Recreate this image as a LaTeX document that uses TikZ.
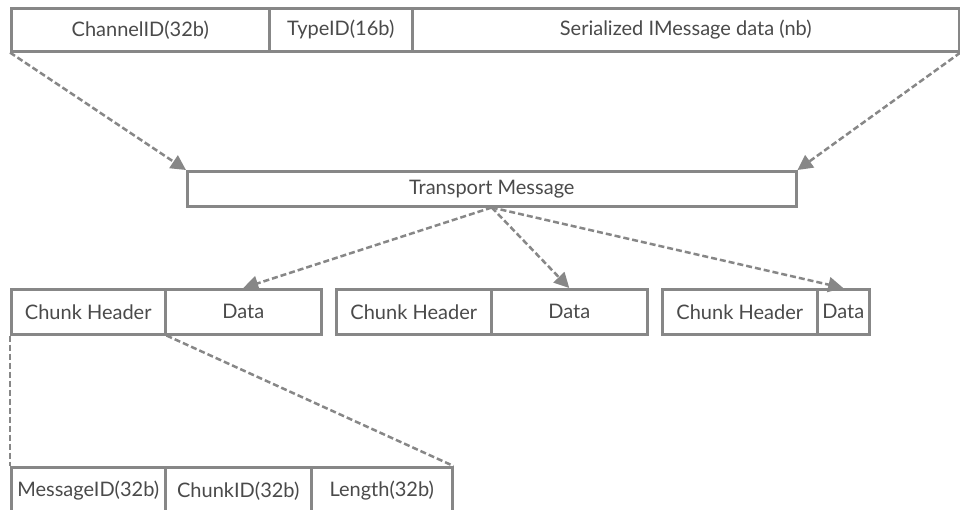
\documentclass[tikz,border=0pt]{standalone}
\usepackage{fontspec}
\setmainfont{Lato}
\usetikzlibrary{arrows.meta}

\definecolor{linegray}{HTML}{878787}
\definecolor{textgray}{HTML}{4A4A4A}

\tikzset{
  field/.style={draw=linegray, line width=2.5pt, fill=white, text=textgray,
    inner sep=0pt, font=\fontsize{20}{24}\selectfont},
  feed/.style={draw=linegray, line width=2.5pt, dash pattern=on 6pt off 3pt,
    -{Triangle[length=15pt,width=15pt]}},
  split/.style={draw=linegray, line width=2.5pt, dash pattern=on 6pt off 3pt}
}

\newcommand{\fieldbox}[6]{% name, x0, x1, y0, height, text
  \node[field, minimum width=#3pt-#2pt, minimum height=#5pt, anchor=north west]
    (#1) at (#2,#4) {#6};}

\begin{document}
\begin{tikzpicture}[x=1pt,y=-1pt]
\useasboundingbox (0,0) rectangle (960,509);
\clip (0,0) rectangle (960,509);
% message layout
\fieldbox{chan}{10}{268}{7}{43}{ChannelID(32b)}
\fieldbox{type}{268}{411}{7}{43}{TypeID(16b)}
\fieldbox{ser}{411}{958}{7}{43}{Serialized IMessage data (nb)}
% transport
\fieldbox{tm}{186}{795}{170}{35}{Transport Message}
% chunks
\fieldbox{h1}{10}{164}{288}{45}{Chunk Header}
\fieldbox{d1}{164}{320}{288}{45}{Data}
\fieldbox{h2}{335}{490}{288}{45}{Chunk Header}
\fieldbox{d2}{490}{646}{288}{45}{Data}
\fieldbox{h3}{661}{816}{288}{45}{Chunk Header}
\fieldbox{d3}{816}{868}{288}{45}{Data}
% chunk header layout (cut off at the bottom)
\fieldbox{mid}{10}{164}{466}{47}{MessageID(32b)}
\fieldbox{cid}{164}{310}{466}{47}{ChunkID(32b)}
\fieldbox{len}{310}{451}{466}{47}{Length(32b)}

\draw[feed] (chan.south west) -- (tm.north west);
\draw[feed] (ser.south east) -- (tm.north east);
\draw[feed] (tm.south) -- (d1.north);
\draw[feed] (tm.south) -- (d2.north);
\draw[feed] (tm.south) -- (d3.north);
\draw[split] (h1.south west) -- (mid.north west);
\draw[split] (h1.south east) -- (len.north east);
\end{tikzpicture}
\end{document}
